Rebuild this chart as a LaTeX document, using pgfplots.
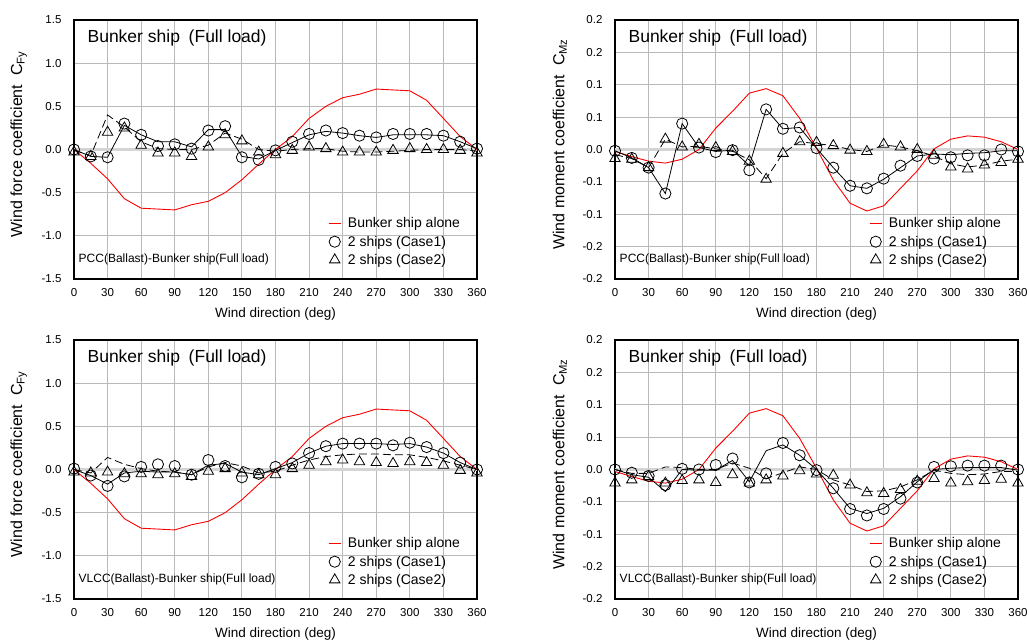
\documentclass[border=0pt]{standalone}
\usepackage{fontspec}
\setmainfont{Liberation Sans}
\usepackage{pgfplots}
\usepackage{pgfplotstable}
\pgfplotsset{compat=1.18}
\definecolor{gridgray}{RGB}{185,185,185}
\definecolor{zerogray}{RGB}{212,212,212}
\definecolor{alonered}{RGB}{255,0,0}

% deg alone sol dash c1 c2
\pgfplotstableread{
deg alone sol dash c1 c2
0 0.00 0.00 -0.01 0.00 -0.03
15 -0.16 -0.08 -0.07 -0.08 -0.08
30 -0.34 -0.09 0.40 -0.09 0.20
45 -0.57 0.28 0.26 0.30 0.25
60 -0.68 0.17 0.09 0.17 0.05
75 -0.69 0.09 0.01 0.04 -0.04
90 -0.70 0.09 0.00 0.06 -0.04
105 -0.64 0.03 0.00 0.01 -0.08
120 -0.60 0.23 0.05 0.22 0.03
135 -0.50 0.23 0.19 0.27 0.17
150 -0.35 -0.08 0.12 -0.09 0.10
165 -0.17 -0.11 0.00 -0.12 -0.03
180 0.00 -0.01 -0.02 -0.01 -0.06
195 0.15 0.08 0.00 0.09 -0.01
210 0.36 0.17 0.01 0.18 0.03
225 0.50 0.21 0.01 0.22 0.01
240 0.60 0.19 -0.02 0.19 -0.03
255 0.64 0.16 -0.03 0.16 -0.03
270 0.70 0.14 -0.03 0.14 -0.03
285 0.69 0.17 -0.02 0.18 -0.01
300 0.68 0.17 -0.01 0.18 0.01
315 0.57 0.17 0.00 0.18 0.00
330 0.36 0.16 0.00 0.16 0.00
345 0.15 0.09 0.00 0.09 -0.01
360 0.00 0.01 -0.02 0.01 -0.04
}\forcePCC

\pgfplotstableread{
deg alone sol dash c1 c2
0 0.00 0.00 0.00 0.01 -0.03
15 -0.16 -0.07 -0.04 -0.07 -0.04
30 -0.34 -0.17 0.14 -0.19 -0.03
45 -0.57 -0.04 0.06 -0.08 -0.05
60 -0.68 -0.02 0.01 0.03 -0.05
75 -0.69 -0.03 -0.02 0.06 -0.06
90 -0.70 -0.03 -0.03 0.04 -0.05
105 -0.64 -0.06 -0.06 -0.06 -0.08
120 -0.60 0.05 0.03 0.11 -0.02
135 -0.50 0.07 0.08 0.04 0.01
150 -0.35 -0.03 0.04 -0.09 -0.04
165 -0.17 -0.06 -0.04 -0.05 -0.06
180 0.00 0.01 -0.02 0.03 -0.06
195 0.15 0.08 0.05 0.07 0.01
210 0.36 0.19 0.11 0.19 0.05
225 0.50 0.27 0.15 0.27 0.09
240 0.60 0.30 0.17 0.30 0.11
255 0.64 0.30 0.18 0.30 0.09
270 0.70 0.30 0.18 0.30 0.08
285 0.69 0.29 0.17 0.28 0.07
300 0.68 0.30 0.17 0.31 0.09
315 0.57 0.26 0.14 0.26 0.08
330 0.36 0.19 0.10 0.19 0.05
345 0.15 0.08 0.05 0.08 -0.01
360 0.00 0.00 0.00 0.00 -0.04
}\forceVLCC

\pgfplotstableread{
deg alone sol dash c1 c2
0 -0.003 -0.002 -0.008 -0.002 -0.014
15 -0.011 -0.013 -0.014 -0.013 -0.015
30 -0.018 -0.028 -0.028 -0.028 -0.028
45 -0.021 -0.068 0.016 -0.068 0.016
60 -0.015 0.040 0.004 0.040 0.004
75 0.000 0.003 0.005 0.003 0.008
90 0.033 -0.003 0.001 -0.004 0.003
105 0.059 -0.001 -0.003 -0.001 -0.003
120 0.087 -0.025 -0.016 -0.032 -0.018
135 0.094 0.062 -0.045 0.062 -0.046
150 0.083 0.032 -0.006 0.032 -0.006
165 0.048 0.034 0.012 0.034 0.012
180 0.002 0.002 0.009 0.002 0.011
195 -0.047 -0.028 0.006 -0.028 0.006
210 -0.083 -0.056 0.000 -0.056 -0.001
225 -0.095 -0.060 -0.003 -0.060 -0.003
240 -0.087 -0.046 0.007 -0.045 0.008
255 -0.060 -0.028 0.004 -0.025 0.004
270 -0.033 -0.010 -0.002 -0.010 0.000
285 0.001 -0.007 -0.010 -0.014 -0.009
300 0.016 -0.008 -0.022 -0.012 -0.027
315 0.021 -0.006 -0.027 -0.009 -0.030
330 0.019 -0.005 -0.024 -0.009 -0.024
345 0.012 -0.002 -0.018 0.000 -0.020
360 0.000 -0.002 -0.015 -0.003 -0.015
}\momentPCC

\pgfplotstableread{
deg alone sol dash c1 c2
0 -0.003 0.000 0.000 0.000 -0.021
15 -0.011 -0.008 -0.006 -0.005 -0.016
30 -0.018 -0.012 -0.006 -0.010 -0.011
45 -0.021 -0.034 0.004 -0.024 -0.021
60 -0.015 0.000 0.003 0.001 -0.017
75 0.000 -0.001 0.000 0.000 -0.016
90 0.033 -0.001 0.000 0.007 -0.020
105 0.059 0.014 0.010 0.017 -0.008
120 0.087 -0.019 0.002 -0.020 -0.021
135 0.094 0.029 -0.014 -0.006 -0.016
150 0.083 0.038 -0.005 0.041 -0.010
165 0.048 0.022 0.004 0.022 -0.002
180 0.002 0.000 0.000 -0.001 -0.007
195 -0.047 -0.029 -0.016 -0.029 -0.009
210 -0.083 -0.060 -0.024 -0.061 -0.024
225 -0.095 -0.068 -0.034 -0.071 -0.036
240 -0.087 -0.060 -0.033 -0.061 -0.037
255 -0.060 -0.042 -0.027 -0.045 -0.031
270 -0.033 -0.019 -0.016 -0.020 -0.018
285 0.001 0.000 -0.001 0.004 -0.014
300 0.016 0.002 -0.006 0.005 -0.021
315 0.021 0.003 -0.008 0.006 -0.019
330 0.019 0.003 -0.007 0.006 -0.017
345 0.012 0.003 -0.003 0.006 -0.015
360 0.000 -0.001 -0.003 0.000 -0.021
}\momentVLCC

\pgfplotsset{
  shipax/.style={
    scale only axis, width=403pt, height=259pt, anchor=south west,
    xmin=0, xmax=360, xtick={0,30,...,360},
    grid=major, grid style={gridgray, line width=0.9pt},
    axis line style={black, line width=1.2pt},
    major tick length=0pt,
    tick label style={font=\fontsize{11.5}{13}\selectfont},
    /pgf/number format/assume math mode=true,
    xticklabel style={yshift=-6pt},
    yticklabel style={xshift=-9pt},
    extra y ticks={0}, extra y tick labels={},
    extra y tick style={grid style={zerogray, line width=2.6pt}},
    xlabel={Wind direction (deg)},
    xlabel style={font=\fontsize{13.5}{15}\selectfont, at={(axis description cs:0.5,-0.135)}, anchor=center},
    ylabel style={font=\fontsize{16}{18}\selectfont, at={(axis description cs:-0.137,0.52)}, anchor=center},
    legend cell align=left,
    legend style={draw=none, fill=none, font=\fontsize{14}{17}\selectfont,
      at={(axis description cs:0.63,0.245)}, anchor=north west, inner sep=0pt, row sep=2.5pt},
  },
  forceax/.style={shipax, ymin=-1.5, ymax=1.5,
    ytick={-1.5,-1,-0.5,0,0.5,1,1.5},
    yticklabels={-1.5,-1.0,-0.5,0.0,0.5,1.0,1.5},
    ylabel={Wind force coefficient\ \ C\textsubscript{Fy}}},
  momentax/.style={shipax, ymin=-0.2, ymax=0.2,
    ytick={-0.2,-0.15,-0.1,-0.05,0,0.05,0.1,0.15,0.2},
    yticklabels={-0.2,-0.2,-0.1,-0.1,0.0,0.1,0.1,0.2,0.2},
    ylabel={Wind moment coefficient\ \ C\textsubscript{Mz}}},
}

\newcommand{\shipplots}[1]{%
  \addplot[alonered, line width=0.9pt, forget plot] table[x=deg, y=alone] {#1};
  \addplot[black, line width=0.8pt, forget plot] table[x=deg, y=sol] {#1};
  \addplot[black, line width=0.8pt, dash pattern=on 8pt off 4pt, forget plot] table[x=deg, y=dash] {#1};
  \addplot[only marks, black, mark=o, mark size=5.6pt, mark options={line width=0.8pt}, forget plot] table[x=deg, y=c1] {#1};
  \addplot[only marks, black, mark=triangle, mark size=6pt, mark options={line width=0.8pt}, forget plot] table[x=deg, y=c2] {#1};
  \addlegendimage{legend image code/.code={\draw[alonered, line width=1.3pt] (0pt,0pt) -- (12pt,0pt); \path (17pt,0pt);}}
  \addlegendentry{Bunker ship alone}
  \addlegendimage{legend image code/.code={\draw[black, line width=0.8pt] (6pt,0pt) circle[radius=5.6pt]; \path (0pt,0pt) (17pt,0pt);}}
  \addlegendentry{2 ships (Case1)}
  \addlegendimage{legend image code/.code={\draw[black, line width=0.8pt] (6pt,6pt) -- (0.8pt,-3pt) -- (11.2pt,-3pt) -- cycle; \path (0pt,0pt) (17pt,0pt);}}
  \addlegendentry{2 ships (Case2)}
  \node[anchor=west, font=\fontsize{17.5}{20}\selectfont] at (axis description cs:0.025,0.93) {Bunker ship\hspace{0.5em}(Full load)};
}

\begin{document}
\begin{tikzpicture}
\begin{axis}[forceax, at={(74pt,364pt)}]
\shipplots{\forcePCC}
\node[anchor=west, font=\fontsize{12}{14}\selectfont] at (axis description cs:0.003,0.077) {PCC(Ballast)-Bunker ship(Full load)};
\end{axis}

\begin{axis}[momentax, at={(615pt,364pt)}]
\shipplots{\momentPCC}
\node[anchor=west, font=\fontsize{12}{14}\selectfont] at (axis description cs:0.003,0.077) {PCC(Ballast)-Bunker ship(Full load)};
\end{axis}

\begin{axis}[forceax, at={(74pt,44pt)}]
\shipplots{\forceVLCC}
\node[anchor=west, font=\fontsize{12}{14}\selectfont] at (axis description cs:0.003,0.077) {VLCC(Ballast)-Bunker ship(Full load)};
\end{axis}

\begin{axis}[momentax, at={(615pt,44pt)}]
\shipplots{\momentVLCC}
\node[anchor=west, font=\fontsize{12}{14}\selectfont] at (axis description cs:0.003,0.077) {VLCC(Ballast)-Bunker ship(Full load)};
\end{axis}

\pgfresetboundingbox
\path[use as bounding box] (0pt,0pt) rectangle (1029pt,643pt);
\end{tikzpicture}
\end{document}
